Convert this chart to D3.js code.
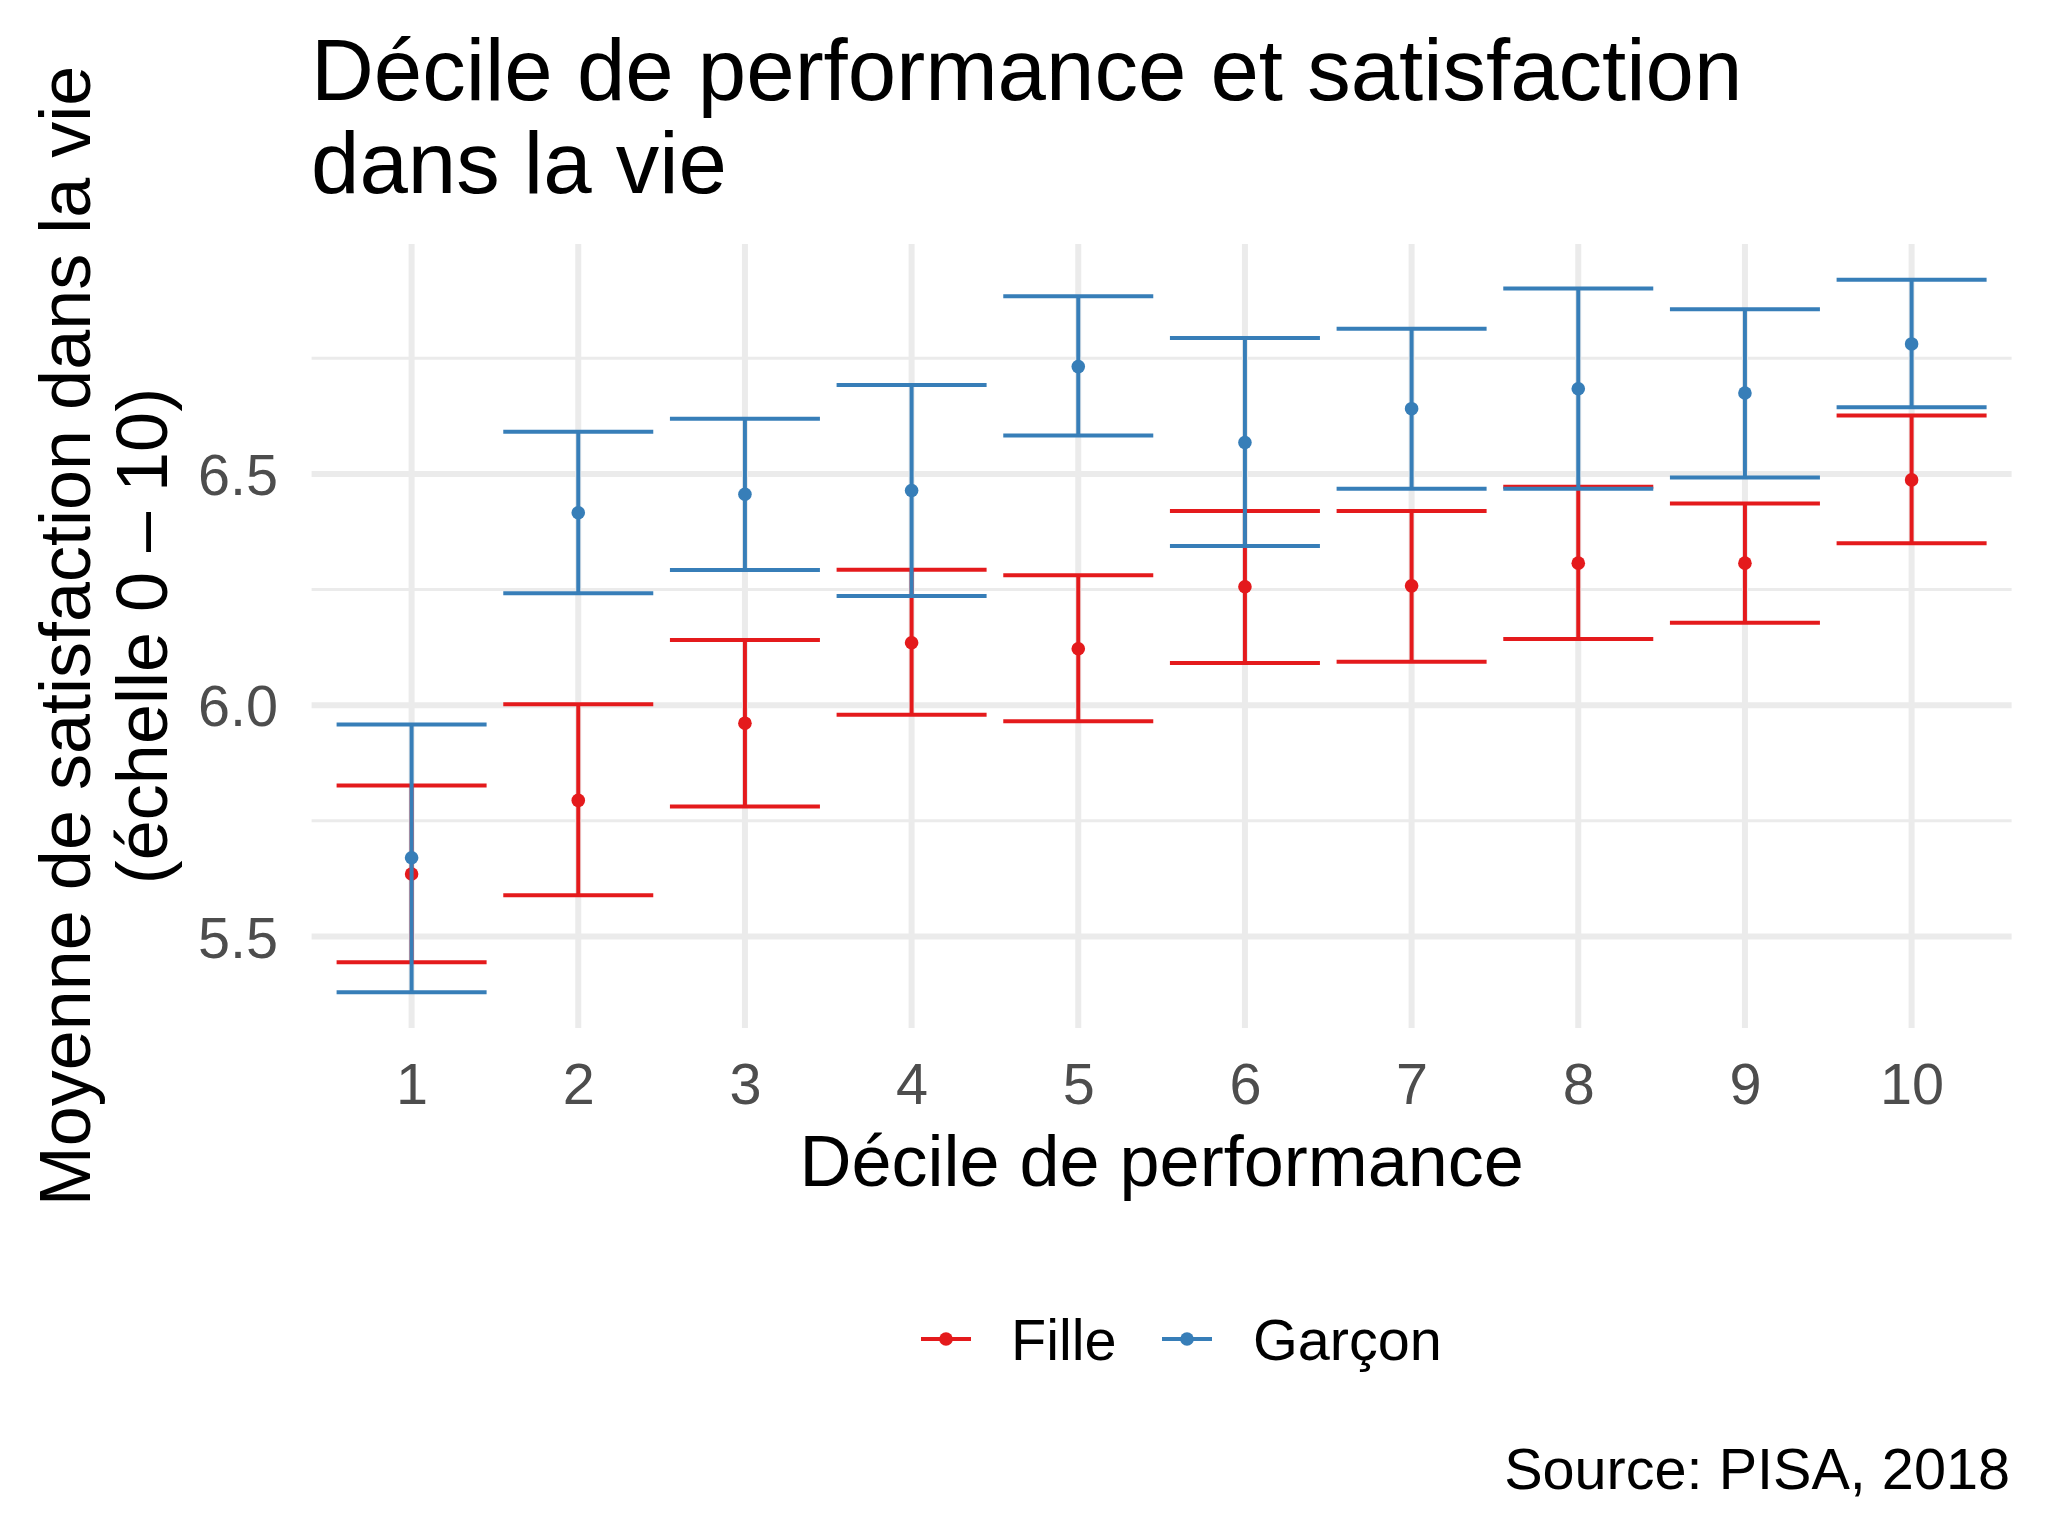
<!DOCTYPE html>
<html>
<head>
<meta charset="utf-8">
<script src="https://cdn.jsdelivr.net/npm/d3@7"></script>
<style>
  html, body { margin: 0; padding: 0; background: #fff; }
  svg { display: block; font-family: "Liberation Sans", Arial, sans-serif; }
</style>
</head>
<body>
<svg id="chart" width="2048" height="1536"></svg>
<script>
// ---- Data ----
const deciles = ["1", "2", "3", "4", "5", "6", "7", "8", "9", "10"];
const filleMean  = [5.635, 5.794, 5.961, 6.135, 6.122, 6.256, 6.258, 6.307, 6.307, 6.487];
const filleLow   = [5.444, 5.589, 5.781, 5.979, 5.965, 6.091, 6.094, 6.143, 6.178, 6.350];
const filleHigh  = [5.826, 6.002, 6.141, 6.293, 6.281, 6.420, 6.420, 6.472, 6.436, 6.626];
const garconMean = [5.670, 6.416, 6.456, 6.464, 6.732, 6.568, 6.641, 6.684, 6.675, 6.781];
const garconLow  = [5.379, 6.242, 6.292, 6.236, 6.583, 6.344, 6.468, 6.468, 6.492, 6.644];
const garconHigh = [5.958, 6.591, 6.619, 6.692, 6.884, 6.794, 6.814, 6.901, 6.856, 6.920];
const yMajorTicks = [5.5, 6.0, 6.5];
const yMinorTicks = [5.75, 6.25, 6.75];
const seriesNames = ["Fille", "Garçon"];
const seriesColors = ["#E41A1C", "#377EB8"];

const titleLines = ["Décile de performance et satisfaction", "dans la vie"];
const yTitleLines = ["Moyenne de satisfaction dans la vie", "(échelle 0 – 10)"];
const xTitle = "Décile de performance";
const caption = "Source: PISA, 2018";

// ---- Layout ----
const svg = d3.select("#chart");
const panel = { left: 311.6, right: 2011.6, top: 244, bottom: 1028 };

const series = [
  { name: seriesNames[0], color: seriesColors[0], mean: filleMean, low: filleLow, high: filleHigh },
  { name: seriesNames[1], color: seriesColors[1], mean: garconMean, low: garconLow, high: garconHigh }
];

const x = d3.scalePoint().domain(deciles).range([panel.left, panel.right]).padding(0.6);
const allLow = d3.min(series, s => d3.min(s.low));
const allHigh = d3.max(series, s => d3.max(s.high));
const pad = 0.05 * (allHigh - allLow);
const y = d3.scaleLinear().domain([allLow - pad, allHigh + pad]).range([panel.bottom, panel.top]);

const grid = svg.append("g");
// minor horizontal
grid.selectAll(".hmin").data(yMinorTicks).enter().append("line")
  .attr("x1", panel.left).attr("x2", panel.right)
  .attr("y1", d => y(d)).attr("y2", d => y(d))
  .attr("stroke", "#EBEBEB").attr("stroke-width", 3);
// major horizontal
grid.selectAll(".hmaj").data(yMajorTicks).enter().append("line")
  .attr("x1", panel.left).attr("x2", panel.right)
  .attr("y1", d => y(d)).attr("y2", d => y(d))
  .attr("stroke", "#EBEBEB").attr("stroke-width", 6);
// major vertical
grid.selectAll(".vmaj").data(deciles).enter().append("line")
  .attr("x1", d => x(d)).attr("x2", d => x(d))
  .attr("y1", panel.top).attr("y2", panel.bottom)
  .attr("stroke", "#EBEBEB").attr("stroke-width", 6);

// ---- Error bars and points ----
const capHalf = 0.45 * x.step();
series.forEach(s => {
  const g = svg.append("g");
  const rows = deciles.map((d, i) => ({ d, mean: s.mean[i], low: s.low[i], high: s.high[i] }));
  g.selectAll(".v").data(rows).enter().append("line")
    .attr("x1", r => x(r.d)).attr("x2", r => x(r.d))
    .attr("y1", r => y(r.low)).attr("y2", r => y(r.high))
    .attr("stroke", s.color).attr("stroke-width", 4);
  g.selectAll(".ct").data(rows).enter().append("line")
    .attr("x1", r => x(r.d) - capHalf).attr("x2", r => x(r.d) + capHalf)
    .attr("y1", r => y(r.high)).attr("y2", r => y(r.high))
    .attr("stroke", s.color).attr("stroke-width", 4);
  g.selectAll(".cb").data(rows).enter().append("line")
    .attr("x1", r => x(r.d) - capHalf).attr("x2", r => x(r.d) + capHalf)
    .attr("y1", r => y(r.low)).attr("y2", r => y(r.low))
    .attr("stroke", s.color).attr("stroke-width", 4);
  g.selectAll("circle").data(rows).enter().append("circle")
    .attr("cx", r => x(r.d)).attr("cy", r => y(r.mean)).attr("r", 6.8)
    .attr("fill", s.color);
});

// ---- Axes ----
const xAxis = svg.append("g").attr("transform", `translate(0,${panel.bottom})`)
  .call(d3.axisBottom(x).tickSize(0).tickPadding(0));
xAxis.select(".domain").remove();
xAxis.selectAll("text")
  .attr("y", 1104 - panel.bottom).attr("dy", null)
  .attr("font-size", 57.6).attr("fill", "#4D4D4D")
  .attr("font-family", "Liberation Sans, Arial, sans-serif");

const yAxis = svg.append("g").attr("transform", `translate(${panel.left},0)`)
  .call(d3.axisLeft(y).tickValues(yMajorTicks).tickFormat(d3.format(".1f")).tickSize(0).tickPadding(0));
yAxis.select(".domain").remove();
yAxis.selectAll("text")
  .attr("x", 278 - panel.left).attr("dy", "0.36em")
  .attr("font-size", 57.6).attr("fill", "#4D4D4D")
  .attr("font-family", "Liberation Sans, Arial, sans-serif");

// ---- Titles ----
svg.append("text").attr("x", 311).attr("y", 99.5)
  .attr("font-size", 87).attr("fill", "#000").text(titleLines[0]);
svg.append("text").attr("x", 311).attr("y", 193)
  .attr("font-size", 87).attr("fill", "#000").text(titleLines[1]);

const yMid = (panel.top + panel.bottom) / 2;
svg.append("text").attr("transform", `translate(89.5,${yMid}) rotate(-90)`)
  .attr("text-anchor", "middle").attr("font-size", 72).attr("fill", "#000").text(yTitleLines[0]);
svg.append("text").attr("transform", `translate(166.5,${yMid}) rotate(-90)`)
  .attr("text-anchor", "middle").attr("font-size", 72).attr("fill", "#000").text(yTitleLines[1]);

svg.append("text").attr("x", (panel.left + panel.right) / 2).attr("y", 1186)
  .attr("text-anchor", "middle").attr("font-size", 72).attr("fill", "#000").text(xTitle);

// ---- Legend ----
const legY = 1339;
const legendKeys = [{ x0: 921, tx: 1011 }, { x0: 1162, tx: 1253 }];
series.forEach((s, i) => {
  const k = legendKeys[i];
  svg.append("line").attr("x1", k.x0).attr("x2", k.x0 + 50)
    .attr("y1", legY).attr("y2", legY)
    .attr("stroke", s.color).attr("stroke-width", 4);
  svg.append("circle").attr("cx", k.x0 + 25).attr("cy", legY).attr("r", 6.8).attr("fill", s.color);
  svg.append("text").attr("x", k.tx).attr("y", 1360)
    .attr("font-size", 57.6).attr("fill", "#000").text(s.name);
});

// ---- Caption ----
svg.append("text").attr("x", 2010).attr("y", 1489).attr("text-anchor", "end")
  .attr("font-size", 57.6).attr("fill", "#000").text(caption);
</script>
</body>
</html>
